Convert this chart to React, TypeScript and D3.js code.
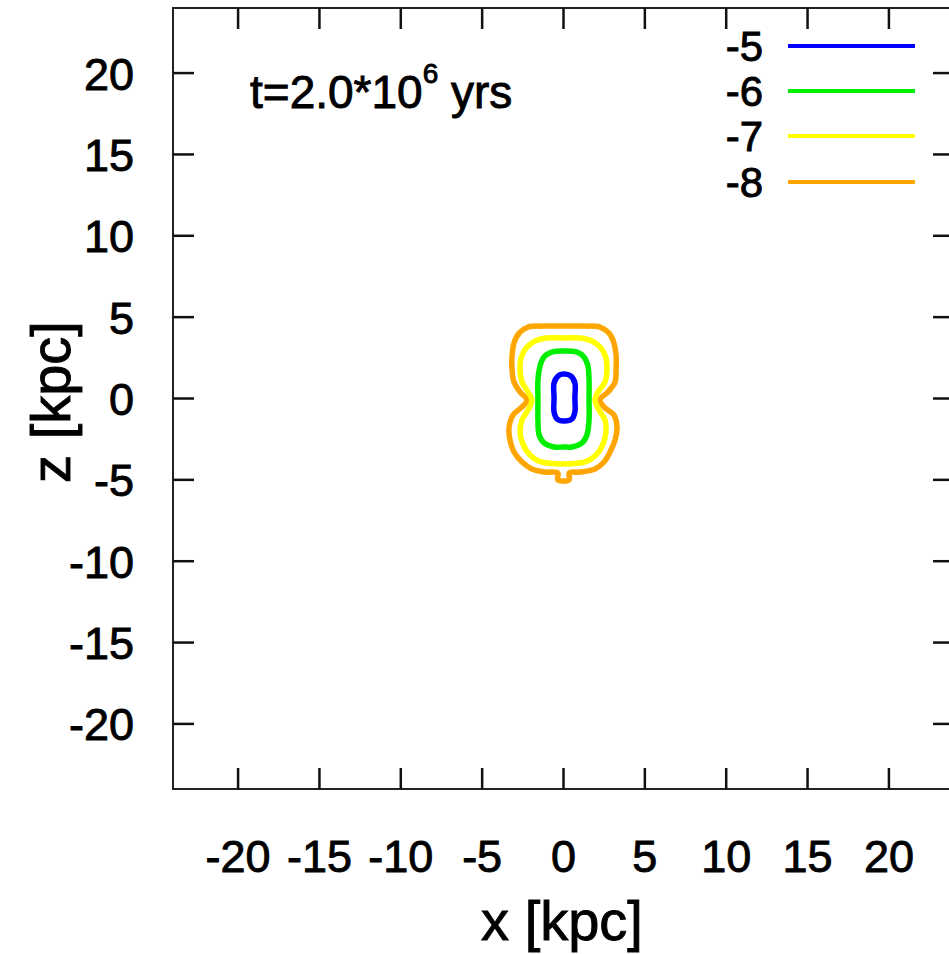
import React from "react";
import * as d3 from "d3";

// Axis ticks (kpc)
const xTicks = [-20, -15, -10, -5, 0, 5, 10, 15, 20];
const yTicks = [-20, -15, -10, -5, 0, 5, 10, 15, 20];

// Contour levels (log density) and their colours
const levels = ["-5", "-6", "-7", "-8"];
const levelColors = ["#0000ff", "#00ee00", "#ffff00", "#ffa500"];

// Contour outlines in kpc: [x, z]
const contourM5: [number, number][] = [
  [0, 1.5], [0.45, 1.38], [0.7, 0.95], [0.7, 0.03], [0.7, -0.83], [0.52, -1.26],
  [0, -1.38], [-0.4, -1.26], [-0.58, -0.83], [-0.58, 0.03], [-0.58, 0.95], [-0.34, 1.38],
];
const contourM6: [number, number][] = [
  [0, 2.92], [0.8, 2.86], [1.26, 2.55], [1.5, 2.0], [1.57, 1.14], [1.57, -0.09],
  [1.57, -1.32], [1.44, -2.24], [1.14, -2.73], [0.52, -2.98], [0, -2.98], [-0.58, -2.98],
  [-1.2, -2.73], [-1.5, -2.24], [-1.57, -1.32], [-1.57, -0.09], [-1.57, 1.14], [-1.44, 2.0],
  [-1.2, 2.55], [-0.68, 2.86],
];
const contourM7: [number, number][] = [
  [0, 3.72], [1.01, 3.72], [1.75, 3.53], [2.3, 3.1], [2.61, 2.49], [2.67, 1.75],
  [2.55, 1.01], [2.12, 0.4], [1.94, -0.09], [2.18, -0.71], [2.55, -1.32], [2.61, -2.06],
  [2.43, -2.8], [2.0, -3.47], [1.32, -3.9], [0, -4.02], [-1.38, -3.9], [-2.06, -3.47],
  [-2.49, -2.8], [-2.67, -2.06], [-2.55, -1.32], [-2.18, -0.71], [-1.94, -0.09], [-2.18, 0.4],
  [-2.55, 1.01], [-2.67, 1.75], [-2.61, 2.49], [-2.3, 3.1], [-1.75, 3.53], [-1.07, 3.72],
];
const contourM8: [number, number][] = [
  [0, 4.45], [1.32, 4.45], [2.24, 4.39], [2.8, 4.02], [3.1, 3.41], [3.23, 2.67],
  [3.23, 1.75], [3.17, 1.01], [2.73, 0.4], [2.24, -0.09], [2.55, -0.58], [3.1, -1.01],
  [3.29, -1.81], [3.17, -2.55], [2.86, -3.29], [2.49, -3.9], [1.94, -4.33], [1.01, -4.52],
  [0.35, -4.58], [0.35, -5.0], [-0.35, -5.0], [-0.35, -4.58], [-1.14, -4.52], [-1.94, -4.33],
  [-2.55, -3.9], [-3.04, -3.29], [-3.29, -2.55], [-3.35, -1.81], [-3.1, -1.01], [-2.55, -0.52],
  [-2.24, -0.09], [-2.67, 0.4], [-3.04, 1.01], [-3.16, 1.75], [-3.16, 2.67], [-3.04, 3.41],
  [-2.73, 4.02], [-2.18, 4.39], [-1.26, 4.45],
];
const contours = [contourM5, contourM6, contourM7, contourM8];

const W = 949;
const H = 954;
const left = 173;
const right = 954;
const top = 8;
const bottom = 789;
const FONT = "'Liberation Sans', Arial, Helvetica, sans-serif";

export default function App() {
  const x = d3.scaleLinear().domain([-24, 24]).range([left, right]);
  const y = d3.scaleLinear().domain([-24, 24]).range([bottom, top]);
  const line = d3
    .line<[number, number]>()
    .x((d) => x(d[0]))
    .y((d) => y(d[1]))
    .curve(d3.curveCatmullRomClosed.alpha(0.5));

  const tickLen = 21;
  const legendYs = [46, 91, 136, 182];
  const textStroke = { stroke: "#000", strokeWidth: 0.9 };

  return (
    <svg
      width={W}
      height={H}
      style={{ position: "absolute", left: 0, top: 0, background: "#fff" }}
      fontFamily={FONT}
    >
      <rect x={0} y={0} width={W} height={H} fill="#fff" />

      {/* contours, outermost first */}
      {contours
        .map((c, i) => ({ c, i }))
        .reverse()
        .map(({ c, i }) => (
          <path
            key={i}
            d={line(c) || ""}
            fill="none"
            stroke={levelColors[i]}
            strokeWidth={5.5}
            strokeLinejoin="round"
          />
        ))}

      {/* frame */}
      <rect
        x={left}
        y={top}
        width={right - left}
        height={bottom - top}
        fill="none"
        stroke="#222"
        strokeWidth={2}
      />

      {/* x ticks */}
      {xTicks.map((t) => (
        <g key={"x" + t}>
          <line x1={x(t)} x2={x(t)} y1={bottom} y2={bottom - tickLen} stroke="#111" strokeWidth={2.5} />
          <line x1={x(t)} x2={x(t)} y1={top} y2={top + tickLen} stroke="#111" strokeWidth={2.5} />
          <text x={x(t)} y={872} textAnchor="middle" fontSize={45} fill="#000" {...textStroke}>
            {t}
          </text>
        </g>
      ))}

      {/* y ticks */}
      {yTicks.map((t) => (
        <g key={"y" + t}>
          <line x1={left} x2={left + tickLen} y1={y(t)} y2={y(t)} stroke="#111" strokeWidth={2.5} />
          <line x1={right - tickLen} x2={right} y1={y(t)} y2={y(t)} stroke="#111" strokeWidth={2.5} />
          <text x={134} y={y(t) + 16.5} textAnchor="end" fontSize={45} fill="#000" {...textStroke}>
            {t}
          </text>
        </g>
      ))}

      {/* axis labels */}
      <text x={562} y={940} textAnchor="middle" fontSize={56} fill="#000" {...textStroke}>
        x [kpc]
      </text>
      <text
        transform={`translate(70, ${402}) rotate(-90)`}
        textAnchor="middle"
        fontSize={56}
        fill="#000"
        {...textStroke}
      >
        z [kpc]
      </text>

      {/* time stamp */}
      <text x={250} y={108} fontSize={46} fill="#000" {...textStroke}>
        t=2.0*10
        <tspan fontSize={28} dy={-25}>6</tspan>
        <tspan dy={25}> yrs</tspan>
      </text>

      {/* legend */}
      {levels.map((lv, i) => (
        <g key={lv}>
          <text x={763} y={legendYs[i] + 15} textAnchor="end" fontSize={42} fill="#000" {...textStroke}>
            {lv}
          </text>
          <line
            x1={788}
            x2={915}
            y1={legendYs[i]}
            y2={legendYs[i]}
            stroke={levelColors[i]}
            strokeWidth={4}
          />
        </g>
      ))}
    </svg>
  );
}
